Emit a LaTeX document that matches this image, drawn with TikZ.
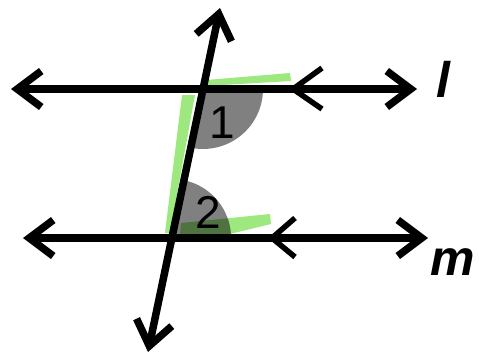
\documentclass[tikz,border=0pt]{standalone}
\usepackage{fontspec}
\setmainfont{Liberation Sans}
\usetikzlibrary{arrows.meta}
\definecolor{hl}{RGB}{158,232,128}
\definecolor{sect}{RGB}{128,128,128}
\definecolor{hldark}{RGB}{78,115,64}
\begin{document}
\begin{tikzpicture}[x=1pt,y=-1pt,
  bar/.style={line width=7.5pt,
    {Straight Barb[length=24pt,width=36pt]}-{Straight Barb[length=24pt,width=36pt]}},
  parmark/.style={line width=5.5pt},
  digit/.style={font=\fontsize{46}{46}\selectfont, anchor=base, inner sep=0pt},
  lbl/.style={font=\fontsize{50}{50}\selectfont\bfseries\itshape, anchor=base west, inner sep=0pt}]
\useasboundingbox[fill=white] (0,0) rectangle (479,356);
% end points
\coordinate (lL) at (11,89);
\coordinate (lR) at (417,89);
\coordinate (mL) at (23,238);
\coordinate (mR) at (428,238);
\coordinate (tT) at (220,8);
\coordinate (tB) at (148,352);
\coordinate (P1) at (203,89);
\coordinate (P2) at (172,238);
% green highlighter
\fill[hl] (205,86) -- (206,80) -- (290,73) -- (291,81) -- cycle;
\fill[hl] (182,95) -- (195,95) -- (170,233) -- (165,233) -- cycle;
\fill[hl] (180,234) -- (181,223) -- (270,214) -- (271,224) -- (230,234) -- cycle;
% angle sectors
\fill[sect] (P1) -- ++(0:60) arc[start angle=0,end angle=101.75,radius=60] -- cycle;
\fill[sect] (P2) -- ++(0:59) arc[start angle=0,end angle=-78.25,radius=59] -- cycle;
\begin{scope}
  \clip (P2) -- ++(0:59) arc[start angle=0,end angle=-78.25,radius=59] -- cycle;
  \fill[hldark] (180,234) -- (181,223) -- (270,214) -- (271,224) -- (230,234) -- cycle;
\end{scope}
% angle labels
\node[digit] (a1) at (222,138) {1};
\node[digit] (a2) at (208,228) {2};
% parallel markers
\coordinate (k1a) at (322,68);
\coordinate (k1v) at (293,89);
\coordinate (k1b) at (322,109);
\coordinate (k2a) at (295,218);
\coordinate (k2v) at (272,238);
\coordinate (k2b) at (295,257);
\draw[parmark] (k1a) -- (k1v) -- (k1b);
\draw[parmark] (k2a) -- (k2v) -- (k2b);
% lines
\draw[bar] (lL) -- (lR);
\draw[bar] (mL) -- (mR);
\draw[bar] (tB) -- (tT);
% line names
\node[lbl] (nl) at (436,97) {l};
\node[lbl] (nm) at (430,275) {m};
\end{tikzpicture}
\end{document}
